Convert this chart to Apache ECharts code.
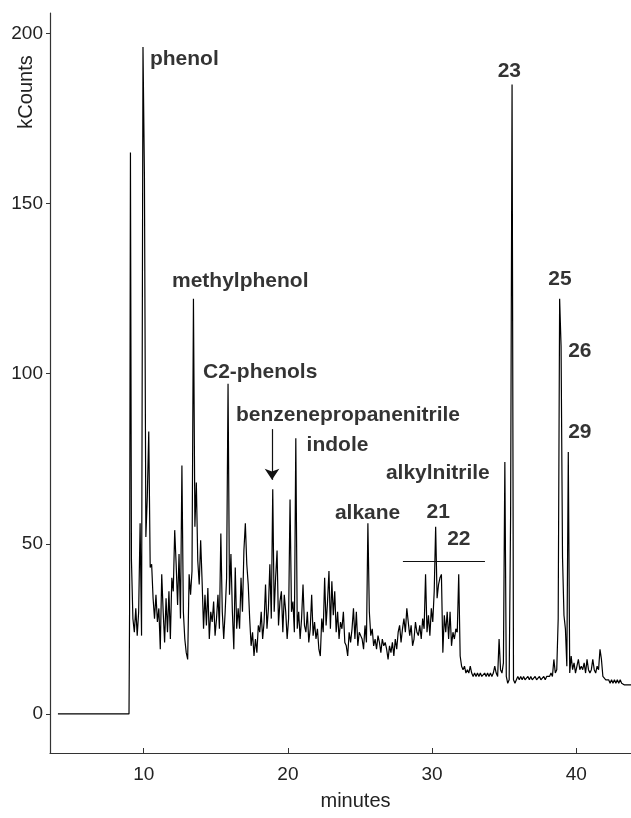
<!DOCTYPE html>
<html>
<head>
<meta charset="utf-8">
<script src="https://cdn.jsdelivr.net/npm/echarts@6/dist/echarts.min.js"></script>
<style>
html,body{margin:0;padding:0;background:#fff;}
#chart{width:631px;height:818px;}
</style>
</head>
<body>
<div id="chart"></div>
<script>
// ---- data (minutes, kCounts) ----
const headTimes = [4.05, 8.98, 9.02, 9.08];
const headValues = [0, 0, 30, 165];

const segAStart = 9.15;   // sampled every 0.1 min
const segAValues = [
  45, 28, 24, 31, 23, 30, 56, 23, 196, 158,
  52, 64, 83, 43, 44, 34, 28, 35, 27, 31,
  19, 41, 30, 21, 34, 24, 36, 22, 40, 36,
  54, 44, 32, 47, 28, 73, 30, 22, 18, 16,
  41, 35, 42, 122, 55, 68, 45, 38, 51, 39,
  25, 35, 26, 37, 22, 30, 27, 33, 23, 28,
  35, 25, 53, 30, 22, 30, 40, 97, 35, 47
];
const segBStart = 16.15;
const segBValues = [
  30, 19, 43, 25, 31, 25, 40, 30, 48, 56,
  44, 38, 28, 20, 24, 17, 22, 18, 26, 24,
  30, 22, 27, 38, 25, 31, 44, 28, 66, 30,
  40, 48, 26, 33, 36, 24, 35, 30, 22, 28,
  63, 30, 33, 24, 81, 25, 30, 22, 28, 38,
  26, 24, 30, 21, 25, 35, 23, 27, 22, 25,
  19, 17, 28, 24, 40, 26, 33, 42, 25, 39,
  29, 36, 24, 30, 22, 27, 25, 30, 21, 20,
  17, 24, 21, 25, 31, 22, 30, 20, 24, 23,
  22, 19, 26, 21, 56, 30, 23, 25, 20, 22,
  19, 23, 21, 18, 22, 20, 21, 19, 16, 20,
  18, 21, 17, 22, 19, 24, 26, 21, 25, 28,
  24, 31, 27, 23, 26, 20, 22, 27, 24, 23,
  26, 22, 28, 25, 41, 24, 29, 23, 31, 27,
  36, 55, 34, 38, 40, 41, 18, 29, 24, 30,
  22, 30, 20, 24, 22, 25, 24, 41, 17, 14
];
const segCStart = 32.15;
const segCValues = [
  13, 14, 12, 13, 12, 14, 12, 11, 12, 11,
  12, 11, 12, 11, 11, 12, 11, 12, 11, 12,
  11, 12, 14, 12, 11, 22, 13, 12, 15, 74,
  11, 9, 10, 59, 185, 10, 9, 10, 11, 10,
  11, 10, 11, 10, 10, 11, 10, 11, 10, 10,
  11, 10, 10, 11, 10, 10, 11, 10, 11, 11,
  11, 12, 11, 16, 12, 13, 28, 122, 108, 46,
  29, 25, 14, 77, 12, 17, 13, 15, 12, 14,
  16, 13, 14, 13, 15, 12, 16, 13, 12, 13,
  16, 13, 12, 14, 13, 19, 16, 11, 11, 10,
  10, 10, 9, 10, 9, 10, 9, 10, 9, 10,
  9, 9, 8.5, 9, 8.5, 8.5, 8.5, 8.5
];
const sampleStep = 0.1;

const xTicks = [10, 20, 30, 40];
const yTicks = [0, 50, 100, 150, 200];

const peakNames = ['phenol','methylphenol','C2-phenols','benzenepropanenitrile','indole','alkylnitrile','alkane','21','22','23','25','26','29'];
const peakLabelX = [10.43, 11.96, 14.11, 16.4, 21.3, 26.8, 23.26, 29.62, 31.05, 34.55, 38.06, 39.44, 39.44];
const peakLabelY = [192.5, 127.2, 100.4, 87.8, 79, 70.8, 59, 59.3, 51.3, 188.8, 127.7, 106.6, 82.9];

const bracketLine = [[27.98, 44.9], [33.67, 44.9]];
const arrowLine = [[18.9, 83.7], [18.9, 68.8]];

// ---- build ----
const trace = [];
headTimes.forEach((t, i) => trace.push([t, headValues[i]]));
function addSeg(start, vals) {
  vals.forEach((v, i) => trace.push([+(start + i * sampleStep).toFixed(3), v]));
}
addSeg(segAStart, segAValues);
addSeg(segBStart, segBValues);
addSeg(segCStart, segCValues);

const FONT = '"Liberation Sans", Arial, Helvetica, sans-serif';
const chart = echarts.init(document.getElementById('chart'), null, {renderer: 'canvas'});
chart.setOption({
  animation: false,
  backgroundColor: '#ffffff',
  grid: {left: 50, right: 0, top: 13, bottom: 65},
  xAxis: {
    type: 'value', min: 3.5, max: 43.8,
    name: 'minutes', nameLocation: 'middle', nameGap: 38,
    nameTextStyle: {fontSize: 20, color: '#222', fontFamily: FONT, padding: [0, 0, 0, 30]},
    axisLine: {onZero: false, lineStyle: {color: '#333', width: 1.2}},
    axisTick: {inside: true, length: 5, customValues: xTicks, lineStyle: {color: '#333'}},
    axisLabel: {customValues: xTicks, fontSize: 19, color: '#222', fontFamily: FONT, margin: 12},
    splitLine: {show: false}
  },
  yAxis: {
    type: 'value', min: -11.5, max: 206,
    axisLine: {show: true, onZero: false, lineStyle: {color: '#333', width: 1.2}},
    axisTick: {show: true, inside: false, length: 4, customValues: yTicks, lineStyle: {color: '#333'}},
    axisLabel: {customValues: yTicks, fontSize: 19, color: '#222', fontFamily: FONT, margin: 7},
    splitLine: {show: false}
  },
  graphic: [{
    type: 'text', x: 26, y: 92, rotation: Math.PI / 2,
    style: {text: 'kCounts', fontSize: 20, fontFamily: FONT, fill: '#222', align: 'center', verticalAlign: 'middle'}
  }],
  series: [{
    type: 'line', data: trace, showSymbol: false, symbol: 'none',
    lineStyle: {color: '#000', width: 1.2}, z: 2, silent: true,
    markLine: {
      silent: true, animation: false, symbol: ['none', 'none'],
      label: {show: false},
      lineStyle: {color: '#111', width: 1.2, type: 'solid'},
      emphasis: {disabled: true},
      data: [
        [{coord: bracketLine[0]}, {coord: bracketLine[1]}],
        [{coord: arrowLine[0], symbol: 'none'}, {coord: arrowLine[1], symbol: 'arrow', symbolSize: 11}]
      ]
    }
  }, {
    type: 'scatter', silent: true, symbolSize: 0, z: 5,
    data: peakLabelX.map((x, i) => [x, peakLabelY[i]]),
    label: {
      show: true, position: 'right', distance: 0,
      formatter: p => peakNames[p.dataIndex],
      fontSize: 21, fontWeight: 'bold', color: '#000', fontFamily: FONT
    }
  }]
});
</script>
</body>
</html>
